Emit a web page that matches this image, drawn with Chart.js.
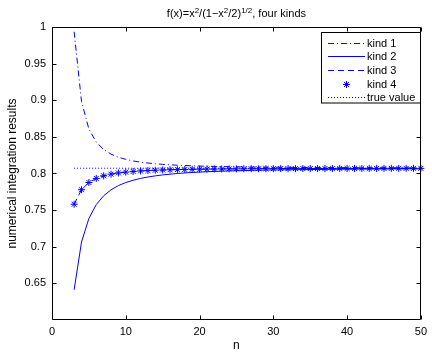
<!DOCTYPE html>
<html>
<head>
<meta charset="utf-8">
<script src="https://cdn.jsdelivr.net/npm/chart.js@4/dist/chart.umd.min.js"></script>
<style>
  html, body { margin: 0; padding: 0; background: #fff; }
  #wrap { width: 432px; height: 354px; }
</style>
</head>
<body>
<div id="wrap"><canvas id="c" width="432" height="354"></canvas></div>
<script>
// Number of quadrature nodes
const nValues = [3,4,5,6,7,8,9,10,11,12,13,14,15,16,17,18,19,20,21,22,23,24,25,26,
  27,28,29,30,31,32,33,34,35,36,37,38,39,40,41,42,43,44,45,46,47,48,49,50];

// Gauss-Chebyshev results, one array per kind
const kind1 = [0.9935,0.8984,0.8608,0.8427,0.8327,0.8264,0.8222,0.8193,0.8171,0.8155,
  0.8143,0.8133,0.8125,0.8119,0.8113,0.8109,0.8105,0.8102,0.8099,0.8097,0.8095,0.8093,
  0.8091,0.8090,0.8088,0.8087,0.8086,0.8085,0.8085,0.8084,0.8083,0.8082,0.8082,0.8081,
  0.8081,0.8080,0.8080,0.8080,0.8079,0.8079,0.8079,0.8078,0.8078,0.8078,0.8078,0.8077,
  0.8077,0.8077];
const kind2 = [0.6413,0.7064,0.7386,0.7576,0.7696,0.7777,0.7835,0.7877,0.7908,0.7933,
  0.7952,0.7968,0.7981,0.7991,0.8000,0.8008,0.8014,0.8019,0.8024,0.8028,0.8032,0.8035,
  0.8038,0.8040,0.8043,0.8045,0.8047,0.8048,0.8050,0.8051,0.8052,0.8053,0.8054,0.8055,
  0.8056,0.8057,0.8058,0.8059,0.8059,0.8060,0.8060,0.8061,0.8061,0.8062,0.8062,0.8063,
  0.8063,0.8063];
const kind3 = [0.7580,0.7779,0.7877,0.7933,0.7968,0.7991,0.8008,0.8019,0.8028,0.8035,
  0.8040,0.8045,0.8048,0.8051,0.8053,0.8055,0.8057,0.8059,0.8060,0.8061,0.8062,0.8063,
  0.8063,0.8064,0.8065,0.8065,0.8066,0.8066,0.8067,0.8067,0.8067,0.8068,0.8068,0.8068,
  0.8068,0.8068,0.8069,0.8069,0.8069,0.8069,0.8069,0.8069,0.8070,0.8070,0.8070,0.8070,
  0.8070,0.8070];
const kind4 = [0.7580,0.7779,0.7877,0.7933,0.7968,0.7991,0.8008,0.8019,0.8028,0.8035,
  0.8040,0.8045,0.8048,0.8051,0.8053,0.8055,0.8057,0.8059,0.8060,0.8061,0.8062,0.8063,
  0.8063,0.8064,0.8065,0.8065,0.8066,0.8066,0.8067,0.8067,0.8067,0.8068,0.8068,0.8068,
  0.8068,0.8068,0.8069,0.8069,0.8069,0.8069,0.8069,0.8069,0.8070,0.8070,0.8070,0.8070,
  0.8070,0.8070];
const trueValue = 0.8072;

const seriesLabels = ['kind 1', 'kind 2', 'kind 3', 'kind 4', 'true value'];
const xTickValues = [0, 10, 20, 30, 40, 50];
const yTickLabels = ['0.65', '0.7', '0.75', '0.8', '0.85', '0.9', '0.95', '1'];

// Title pieces: [text, isSuperscript]
const titleParts = [['f(x)=x', 0], ['2', 1], ['/(1\u2212x', 0], ['2', 1], ['/2)', 0], ['1/2', 1], [', four kinds', 0]];

const FONT = '"Liberation Sans", Arial, Helvetica, sans-serif';
const BLUE = '#0000ff';

const pts = arr => nValues.map((n, i) => ({ x: n, y: arr[i] }));

// Axes box with inward tick marks on all four sides
const framePlugin = {
  id: 'frame',
  afterDatasetsDraw(chart) {
    const { ctx, chartArea: a, scales: { x, y } } = chart;
    const L = Math.round(a.left) + 0.5, R = Math.round(a.right) - 0.5;
    const T = Math.round(a.top) + 0.5, B = Math.round(a.bottom) - 0.5;
    const tl = 4;
    ctx.save();
    ctx.strokeStyle = '#000';
    ctx.lineWidth = 1;
    ctx.beginPath();
    ctx.rect(L, T, R - L, B - T);
    x.ticks.forEach(t => {
      const px = Math.round(x.getPixelForValue(t.value)) + 0.5;
      ctx.moveTo(px, B); ctx.lineTo(px, B - tl);
      ctx.moveTo(px, T); ctx.lineTo(px, T + tl);
    });
    y.ticks.forEach(t => {
      const py = Math.round(y.getPixelForValue(t.value)) + 0.5;
      ctx.moveTo(L, py); ctx.lineTo(L + tl, py);
      ctx.moveTo(R, py); ctx.lineTo(R - tl, py);
    });
    ctx.stroke();
    ctx.restore();
  }
};

// Title with superscripts
const titlePlugin = {
  id: 'richTitle',
  afterDraw(chart) {
    const { ctx, chartArea: a } = chart;
    const base = '11px ' + FONT, sup = '8px ' + FONT;
    ctx.save();
    ctx.fillStyle = '#000';
    ctx.textBaseline = 'alphabetic';
    let w = 0;
    titleParts.forEach(([t, s]) => { ctx.font = s ? sup : base; w += ctx.measureText(t).width; });
    let xPos = (a.left + a.right) / 2 - w / 2;
    const baseY = 17;
    titleParts.forEach(([t, s]) => {
      ctx.font = s ? sup : base;
      ctx.fillText(t, xPos, s ? baseY - 4.5 : baseY);
      xPos += ctx.measureText(t).width;
    });
    ctx.restore();
  }
};

// Boxed legend in the upper right corner
const legendPlugin = {
  id: 'boxLegend',
  afterDraw(chart) {
    const { ctx } = chart;
    const box = { x: 321.5, y: 32.5, w: 99, h: 70.5 };
    const row0 = 42.7, rowH = 13.65;
    const lineX0 = 328, lineX1 = 365, textX = 367;
    ctx.save();
    ctx.fillStyle = '#fff';
    ctx.fillRect(box.x, box.y, box.w, box.h);
    ctx.strokeStyle = '#000';
    ctx.lineWidth = 1;
    ctx.strokeRect(box.x, box.y, box.w, box.h);
    chart.data.datasets.forEach((ds, i) => {
      const yy = Math.round(row0 + i * rowH) + 0.5;
      ctx.strokeStyle = BLUE;
      ctx.lineWidth = 1;
      if (ds.showLine === false) {
        const cx = (lineX0 + lineX1) / 2, r = ds.pointRadius;
        ctx.setLineDash([]);
        ctx.beginPath();
        ctx.moveTo(cx - r, yy); ctx.lineTo(cx + r, yy);
        ctx.moveTo(cx, yy - r); ctx.lineTo(cx, yy + r);
        const d = r * Math.SQRT1_2;
        ctx.moveTo(cx - d, yy - d); ctx.lineTo(cx + d, yy + d);
        ctx.moveTo(cx - d, yy + d); ctx.lineTo(cx + d, yy - d);
        ctx.stroke();
      } else {
        ctx.setLineDash(ds.borderDash || []);
        ctx.beginPath();
        ctx.moveTo(lineX0, yy); ctx.lineTo(lineX1, yy);
        ctx.stroke();
      }
      ctx.setLineDash([]);
      ctx.fillStyle = '#000';
      ctx.font = '11px ' + FONT;
      ctx.textBaseline = 'middle';
      ctx.fillText(ds.label, textX, yy);
    });
    ctx.restore();
  }
};

const lineSet = (label, arr, dash) => ({
  label, data: pts(arr), borderColor: BLUE, backgroundColor: BLUE,
  borderWidth: 1, borderDash: dash, pointRadius: 0, tension: 0, fill: false
});

new Chart(document.getElementById('c'), {
  type: 'line',
  data: {
    datasets: [
      lineSet(seriesLabels[0], kind1, [6, 3, 1, 3]),
      lineSet(seriesLabels[1], kind2, []),
      lineSet(seriesLabels[2], kind3, [6, 4]),
      {
        label: seriesLabels[3], data: pts(kind4), showLine: false,
        pointStyle: 'star', pointRadius: 3.5, pointBorderColor: BLUE,
        pointBackgroundColor: BLUE, pointBorderWidth: 1, borderColor: BLUE, clip: false
      },
      {
        label: seriesLabels[4],
        data: [{ x: nValues[0], y: trueValue }, { x: nValues[nValues.length - 1], y: trueValue }],
        borderColor: BLUE, borderWidth: 1, borderDash: [1, 2], pointRadius: 0, fill: false
      }
    ]
  },
  options: {
    responsive: false,
    animation: false,
    devicePixelRatio: 1,
    layout: { padding: { left: 0, top: 27, right: 6, bottom: 0 } },
    plugins: { legend: { display: false }, title: { display: false }, tooltip: { enabled: false } },
    scales: {
      x: {
        type: 'linear', min: 0, max: 50,
        afterFit: s => { s.height = 34; },
        afterBuildTicks: s => { s.ticks = xTickValues.map(v => ({ value: v })); },
        grid: { display: false, drawTicks: false },
        border: { display: false },
        ticks: { color: '#000', font: { family: FONT, size: 11 }, padding: 5, maxRotation: 0 },
        title: { display: true, text: 'n', color: '#000', font: { family: FONT, size: 12 }, padding: { top: 0, bottom: 1 } }
      },
      y: {
        type: 'linear', min: 0.6, max: 1,
        afterFit: s => { s.width = 52; },
        afterBuildTicks: s => { s.ticks = yTickLabels.map(v => ({ value: parseFloat(v) })); },
        grid: { display: false, drawTicks: false },
        border: { display: false },
        ticks: {
          color: '#000', font: { family: FONT, size: 11 }, padding: 6,
          callback: (v, i) => yTickLabels[i]
        },
        title: { display: true, text: 'numerical integration results', color: '#000', font: { family: FONT, size: 12 }, padding: { top: 5.6, bottom: 0 } }
      }
    }
  },
  plugins: [framePlugin, titlePlugin, legendPlugin]
});
</script>
</body>
</html>
